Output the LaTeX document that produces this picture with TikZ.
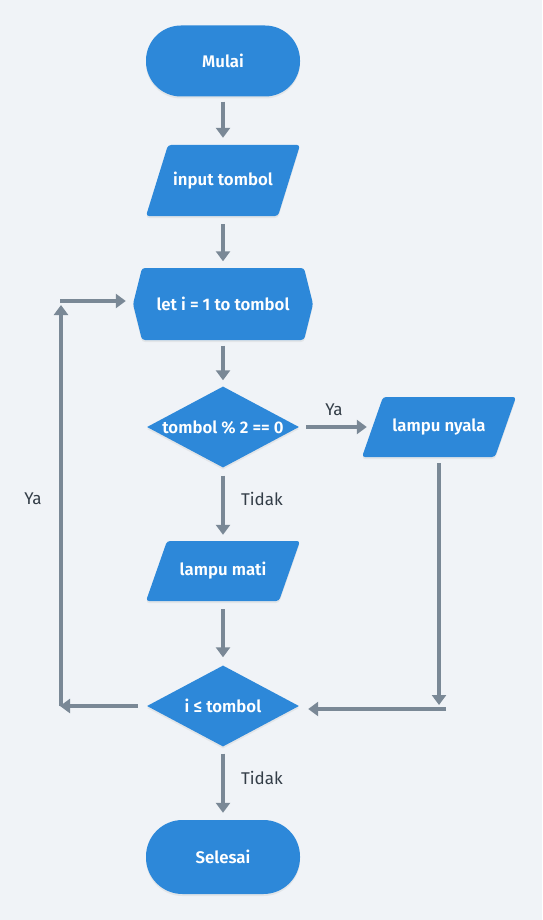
\documentclass[tikz,border=0pt]{standalone}
\usepackage{fontspec}
\setmainfont{Fira Sans}[BoldFont={Fira Sans SemiBold}]
\usetikzlibrary{shapes.geometric,arrows.meta,shadows}
\definecolor{nodeblue}{HTML}{2D88D9}
\definecolor{linegray}{HTML}{7A8896}
\definecolor{bggray}{HTML}{F0F3F7}
\definecolor{labeltext}{HTML}{333D47}
\begin{document}
\begin{tikzpicture}[x=1pt,y=-1pt,
  shade/.style={drop shadow={opacity=0.12,shadow xshift=0pt,shadow yshift=-2pt}},
  boxfont/.style={text=white,font=\fontsize{16.8}{20}\selectfont\bfseries},
  base/.style={fill=nodeblue,boxfont,shade},
  shapefill/.style={fill=nodeblue,rounded corners=3pt,shade},
  terminal/.style={base,rectangle,rounded corners=35pt,minimum width=154pt,minimum height=71pt},
  iotext/.style={boxfont,rectangle,inner sep=0pt,minimum width=132pt,minimum height=71pt},
  iosmall/.style={iotext,minimum height=60pt},
  decision/.style={base,diamond,inner sep=0pt,minimum width=152pt,minimum height=81pt,aspect=1.88},
  loopbox/.style={boxfont,rectangle,minimum width=180pt,minimum height=71pt},
  arr/.style={draw=linegray,line width=3.5pt,-{Triangle[length=10pt,width=14pt]}},
  lbl/.style={text=labeltext,font=\fontsize{17}{20}\selectfont}
]
\fill[bggray] (0,0) rectangle (542,920);
\useasboundingbox (0,0) rectangle (542,920);

% shape outlines drawn behind their text nodes
\fill[shapefill] (168,145) -- (300,145) -- (278,216) -- (146,216) -- cycle;
\fill[shapefill] (133,304) -- (142,268) -- (304,268) -- (313,304) -- (304,340) -- (142,340) -- cycle;
\fill[shapefill] (383,397) -- (516,397) -- (495,457) -- (362,457) -- cycle;
\fill[shapefill] (167,541) -- (300,541) -- (279,601) -- (146,601) -- cycle;

\node[terminal] (mulai) at (223,61) {Mulai};
\node[iotext] (input) at (223,180.5) {input tombol};
\node[loopbox] (lp) at (223,304) {let i = 1 to tombol};
\node[decision] (d1) at (223,427) {tombol \% 2 == 0};
\node[iosmall] (nyala) at (439,427) {lampu nyala};
\node[iosmall] (mati) at (223,571) {lampu mati};
\node[decision] (d2) at (223,706) {i ≤ tombol};
\node[terminal,minimum height=74pt,rounded corners=36.5pt] (selesai) at (223,857) {Selesai};

\coordinate (c1) at (439,705);
\coordinate (c2) at (446,709);
\coordinate (c3) at (60,706);
\coordinate (c4) at (61,706);
\coordinate (c5) at (61,305);
\coordinate (c6) at (60,301);

\draw[arr,shorten <=5pt,shorten >=7pt] (mulai) -- (input);
\draw[arr,shorten <=8pt,shorten >=7pt] (input) -- (lp);
\draw[arr,shorten <=6pt,shorten >=6pt] (lp) -- (d1);
\draw[arr,shorten <=7pt,shorten >=6pt] (d1.east) -- (nyala.west);
\draw[arr,shorten <=8pt,shorten >=6pt] (d1) -- (mati);
\draw[arr,shorten <=8pt,shorten >=8pt] (mati) -- (d2);
\draw[arr,shorten <=6pt] (nyala.south) -- (c1);
\draw[arr,shorten >=9pt] (c2) -- (c2 -| d2.east);
\draw[arr,shorten <=9pt] (d2.west) -- (c3);
\draw[arr] (c4) -- (c5);
\draw[arr,shorten >=7pt] (c6) -- (c6 -| lp.west);
\draw[arr,shorten <=7pt,shorten >=7pt] (d2) -- (selesai);

\node[lbl] (ya1) at (334,410) {Ya};
\node[lbl] (tidak1) at (262,499) {Tidak};
\node[lbl] (ya2) at (33,499) {Ya};
\node[lbl] (tidak2) at (262,778) {Tidak};
\end{tikzpicture}
\end{document}
